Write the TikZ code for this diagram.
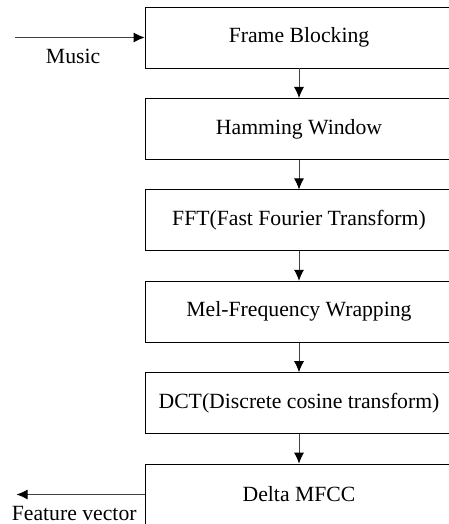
\documentclass[tikz,border=0pt]{standalone}
\usepackage{fontspec}
\setmainfont{Liberation Serif}
\usetikzlibrary{positioning, arrows.meta}

\begin{document}
\begin{tikzpicture}[x=0.5pt, y=-0.5pt, node distance=45.7pt]
            % Define node styles
            \tikzstyle{stage} = [rectangle, draw, minimum width=154pt, minimum height=30.5pt, font=\fontsize{10.85pt}{13pt}\selectfont]
            \tikzstyle{flow} = [-{Latex[length=5.5pt, width=5pt, color=black]}, draw=black!75]
            \tikzstyle{label} = [font=\fontsize{10.85pt}{13pt}\selectfont, yshift=-2.5pt]

            % Crop to the visible part
            \clip (0,0) rectangle (449,524);

            % Processing stages (one column)
            \node[stage] (frame) at (299,37.5) {Frame Blocking};
            \node[stage] (hamming) [below of=frame] {Hamming Window};
            \node[stage] (fft) [below of=hamming] {FFT(Fast Fourier Transform)};
            \node[stage] (mel) [below of=fft] {Mel-Frequency Wrapping};
            \node[stage] (dct) [below of=mel] {DCT(Discrete cosine transform)};
            \node[stage] (delta) [below of=dct] {Delta MFCC};

            % Free ends of input and output
            \coordinate (in) at ([xshift=-65pt]frame.west);
            \coordinate (out) at ([xshift=-64pt]delta.west);

            % Arrows between stages
            \draw[flow] (frame) -- (hamming);
            \draw[flow] (hamming) -- (fft);
            \draw[flow] (fft) -- (mel);
            \draw[flow] (mel) -- (dct);
            \draw[flow] (dct) -- (delta);

            % Input and output with labels
            \draw[flow] (in) -- node[label, below, pos=0.45] (music) {Music} (frame.west);
            \draw[flow] (delta.west) -- node[label, below, pos=0.55] (feature) {Feature vector} (out);

        \end{tikzpicture}
\end{document}
